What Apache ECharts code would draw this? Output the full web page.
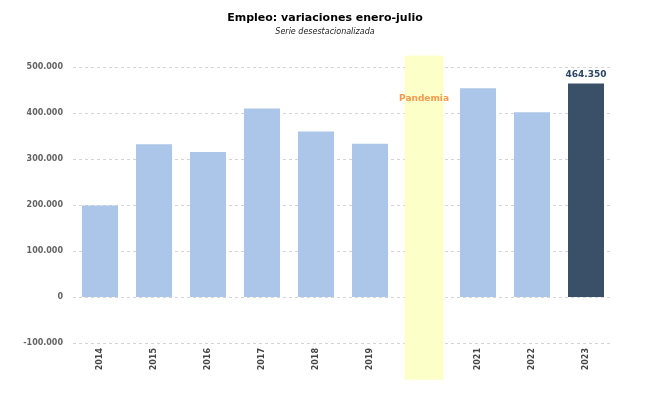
<!DOCTYPE html>
<html><head><meta charset="utf-8">
<script src="https://cdn.jsdelivr.net/npm/echarts@6/dist/echarts.min.js"></script>
<style>html,body{margin:0;padding:0;background:#fff}#c{width:650px;height:393px}</style>
</head><body><div id="c"></div>
<script>
const categories = ['2014','2015','2016','2017','2018','2019','2020','2021','2022','2023'];
const tickLabels = ['2014','2015','2016','2017','2018','2019','','2021','2022','2023'];
const values = [199000, 332000, 315000, 410000, 360000, 333000, null, 454000, 401500, 464350];
const highlightIndex = 9;
const bandCategory = '2020';
const bandLabel = 'Pandemia';
const bandRange = [525000, -180000];
const bandLabelValue = 432000;

function fmt(v){ return (v<0?'-':'') + String(Math.abs(v)).replace(/\B(?=(\d{3})+(?!\d))/g,'.'); }

const chart = echarts.init(document.getElementById('c'), null, {renderer:'canvas'});
chart.setOption({
  animation:false,
  title:{
    text:'Empleo: variaciones enero-julio',
    subtext:'Serie desestacionalizada',
    left:'center', top:8, itemGap:4,
    textStyle:{fontFamily:'DejaVu Sans', fontWeight:'bold', fontSize:11, color:'#000'},
    subtextStyle:{fontFamily:'DejaVu Sans', fontStyle:'italic', fontSize:8, color:'#222'}
  },
  grid:{left:73, right:37, top:67, bottom:50},
  xAxis:{
    type:'category', data:categories,
    axisLine:{show:false}, axisTick:{show:false},
    axisLabel:{rotate:90, margin:5, fontFamily:'DejaVu Sans', fontWeight:'bold', fontSize:8, color:'#444',
      formatter:(v,i)=>tickLabels[i]}
  },
  yAxis:{
    type:'value', min:-100000, max:500000, interval:100000,
    axisLine:{show:false}, axisTick:{show:false},
    splitLine:{lineStyle:{type:[3,3], color:'#d4d4d4'}},
    axisLabel:{margin:10, fontFamily:'DejaVu Sans', fontWeight:'bold', fontSize:8, color:'#636363', formatter:fmt}
  },
  series:[{
    type:'bar', data:values.map((v,i)=>({value:v, itemStyle:{color: i===highlightIndex?'#3a5069':'#abc6e8'},
      label: i===highlightIndex ? {show:true, position:'top', distance:4, formatter:p=>fmt(p.value),
        fontFamily:'DejaVu Sans', fontWeight:'bold', fontSize:9, color:'#2c4463'} : {show:false}})),
    barWidth:36, z:3
  }]
});

const xc = chart.convertToPixel({xAxisIndex:0}, bandCategory);
const yTop = chart.convertToPixel({yAxisIndex:0}, bandRange[0]);
const yBot = chart.convertToPixel({yAxisIndex:0}, bandRange[1]);
const yLab = chart.convertToPixel({yAxisIndex:0}, bandLabelValue);
const bw = 39;
chart.setOption({
  graphic:[
    {type:'rect', z:0, silent:true, shape:{x:xc-bw/2, y:yTop, width:bw, height:yBot-yTop}, style:{fill:'#fdffc9'}},
    {type:'text', z:5, silent:true, x:xc, y:yLab, style:{text:bandLabel, fill:'#f39a4f', font:'bold 9px "DejaVu Sans"', align:'center', verticalAlign:'middle'}}
  ]
});
</script></body></html>
